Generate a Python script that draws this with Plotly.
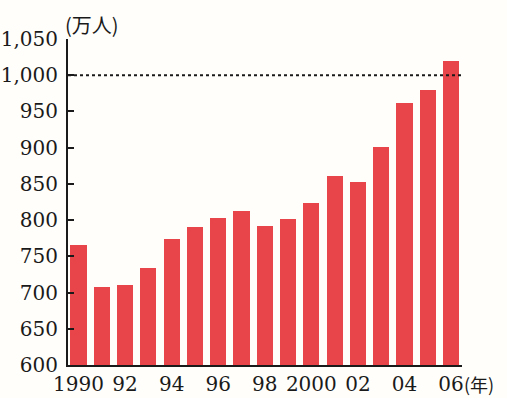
import plotly.graph_objects as go

years = list(range(1990, 2007))
values = [766, 708, 711, 734, 774, 791, 803, 812, 792, 802, 823, 861, 852, 901, 961, 980, 1020]
x_tick_vals = [1990, 1992, 1994, 1996, 1998, 2000, 2002, 2004, 2006]
x_tick_text = ["1990", "92", "94", "96", "98", "2000", "02", "04", "06"]
y_tick_vals = [600, 650, 700, 750, 800, 850, 900, 950, 1000, 1050]
y_tick_text = ["600", "650", "700", "750", "800", "850", "900", "950", "1,000", "1,050"]
ref_level = 1000

font = dict(family="DejaVu Serif, Liberation Serif, serif", size=20, color="#1a1a1a")
xfont = dict(family="DejaVu Serif, Liberation Serif, serif", size=20, color="#1a1a1a")
cjk = dict(family="Noto Sans CJK JP, DejaVu Serif, serif", size=20, color="#1a1a1a")
cjk_small = dict(family="Noto Sans CJK JP, DejaVu Serif, serif", size=18, color="#1a1a1a")

fig = go.Figure(go.Bar(x=years, y=values, marker=dict(color="#e8454b", line=dict(width=0)), width=0.69))

fig.update_layout(
    width=507, height=398,
    margin=dict(l=68, r=45, t=39, b=33, autoexpand=False),
    paper_bgcolor="#fffefb", plot_bgcolor="#fffefb",
    showlegend=False,
    font=font,
    bargap=0,
)
fig.update_xaxes(range=[1989.55, 2006.47], tickvals=x_tick_vals, ticktext=x_tick_text,
                 showgrid=False, zeroline=False, showline=True, linecolor="#1a1a1a", linewidth=2,
                 ticks="", ticklabelstandoff=0, tickfont=xfont, automargin=False)
fig.update_yaxes(range=[600, 1050], tickvals=y_tick_vals, ticktext=y_tick_text,
                 showgrid=False, zeroline=False, showline=True, linecolor="#1a1a1a", linewidth=2,
                 ticks="inside", ticklen=6, tickwidth=2, tickcolor="#1a1a1a", tickfont=font,
                 ticklabelstandoff=4, automargin=False)

fig.add_shape(type="line", xref="paper", yref="y", x0=0, x1=1, y0=ref_level, y1=ref_level,
              line=dict(color="#1a1a1a", width=2, dash="dot"), layer="above")

fig.add_annotation(text="(万人)", xref="paper", yref="paper", x=0, y=1, xanchor="left", yanchor="bottom",
                   xshift=-5, yshift=-2, showarrow=False, font=cjk)
fig.add_annotation(text="(年)", xref="x", yref="paper", x=2006, y=0, xanchor="left", yanchor="top",
                   xshift=12, yshift=-5, showarrow=False, font=cjk_small, borderpad=0)

fig.write_html("out.html")
